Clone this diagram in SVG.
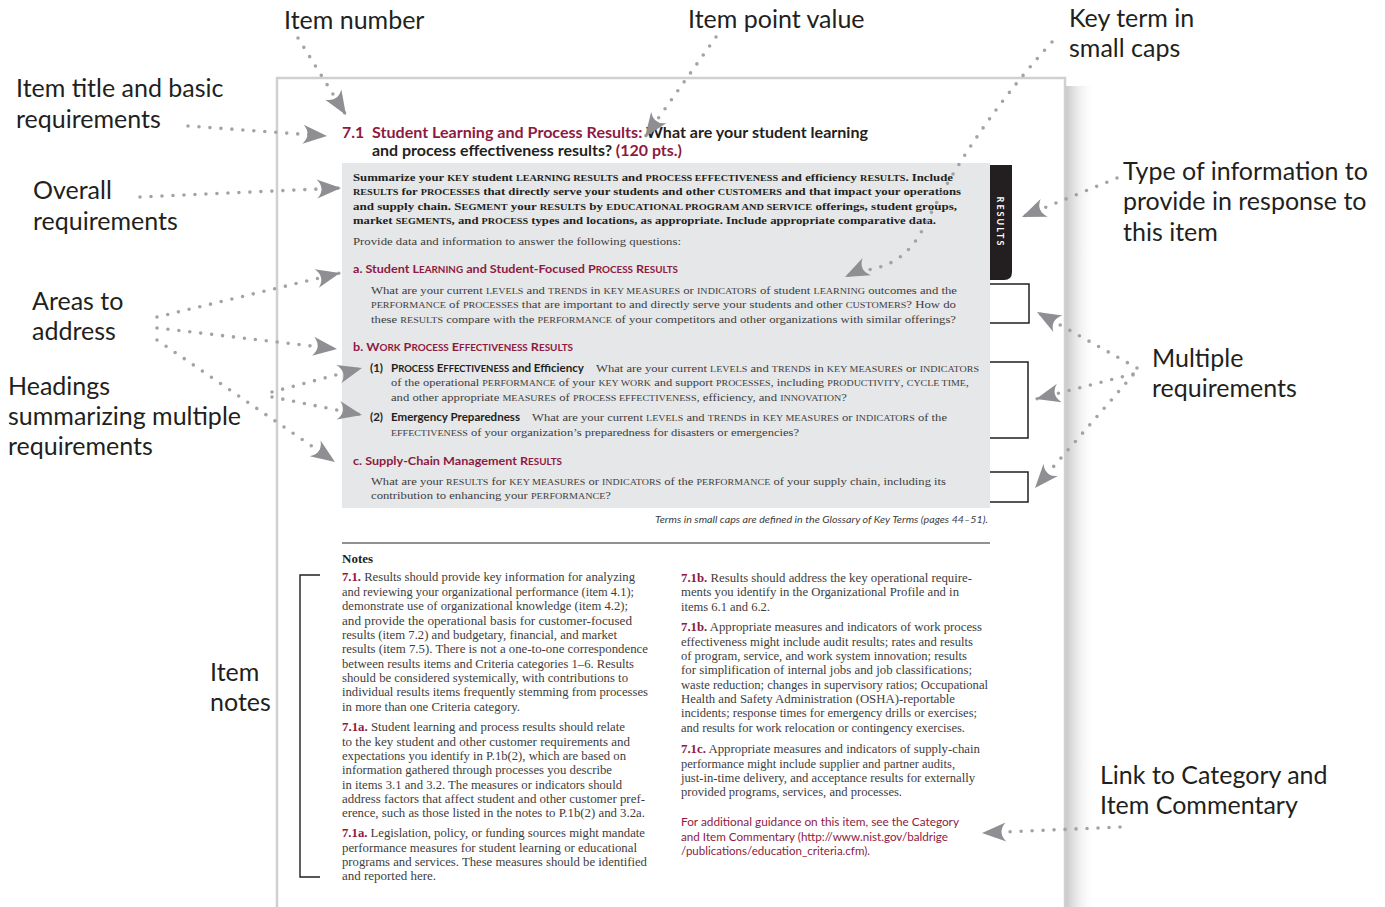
<svg xmlns="http://www.w3.org/2000/svg" width="1385" height="907" viewBox="0 0 1385 907">
<defs>
<style>
.lbl{font-family:Lato,"Open Sans","Liberation Sans",sans-serif;font-size:25px;fill:#231f20}
.s{font-family:"Liberation Serif","Times New Roman",serif;font-size:11.2px;fill:#3d3d3d}
.sb{font-family:"Liberation Serif","Times New Roman",serif;font-size:11.2px;font-weight:bold;fill:#231f20}
.n{font-family:"Liberation Serif","Times New Roman",serif;font-size:11.6px;fill:#3d3d3d}
.nb{font-weight:bold;fill:#8e1a42}
.sc{font-size:8.9px}
.h{font-family:Lato,"Liberation Sans",sans-serif;font-size:12px;font-weight:bold;fill:#8e1a42}
.hk{font-family:Lato,"Liberation Sans",sans-serif;font-size:11.5px;font-weight:bold;fill:#231f20}
.hs{font-size:9.4px}
.m{fill:#8e1a42}
.k{fill:#231f20}
.ttl{font-family:Lato,"Liberation Sans",sans-serif;font-size:15.8px;font-weight:bold;fill:#8e1a42}
.lnk{font-family:Lato,"Liberation Sans",sans-serif;font-size:11.5px;fill:#8e1a42}
.it{font-family:Lato,"Liberation Sans",sans-serif;font-size:10px;font-style:italic;fill:#3d3d3d}
.dot{fill:none;stroke:#a3a3a7;stroke-width:3.6;stroke-linecap:round;stroke-dasharray:0 11;marker-end:url(#ah)}
.box{fill:none;stroke:#231f20;stroke-width:1.5}
</style>
<marker id="ah" viewBox="-25 -11 27 22" refX="0" refY="0" markerWidth="27" markerHeight="22" markerUnits="userSpaceOnUse" orient="auto">
<path d="M0,0 L-24,-9.5 Q-15,0 -24,9.5 Z" fill="#8f8f93"/>
</marker>
<linearGradient id="sh" x1="0" y1="0" x2="1" y2="0">
<stop offset="0" stop-color="#c9c9c9"/>
<stop offset="1" stop-color="#ffffff" stop-opacity="0"/>
</linearGradient>
</defs>
<rect width="1385" height="907" fill="#ffffff"/>

<g id="page">
<rect x="1066" y="86" width="30" height="821" fill="url(#sh)"/>
<rect x="277" y="78" width="788" height="860" fill="#ffffff" stroke="#d0d0d0" stroke-width="2.5"/>
<path class="box" d="M980,284 H1029 V323 H980"/>
<path class="box" d="M980,362 H1028 V438 H980"/>
<path class="box" d="M980,472 H1028 V502 H980"/>
<rect x="342" y="163" width="648" height="345" fill="#e6e7e8"/>
<path d="M990,165 H1012 V272 Q1012,280 1004,280 H990 Z" fill="#231f20"/>
<text transform="translate(997,222) rotate(90)" text-anchor="middle" font-family="Lato,'Liberation Sans',sans-serif" font-size="9" font-weight="bold" letter-spacing="2" fill="#ffffff">RESULTS</text>
<line x1="342" y1="543" x2="990" y2="543" stroke="#6d6d6d" stroke-width="1.5"/>
<path d="M320,575 H300 V877 H320" fill="none" stroke="#231f20" stroke-width="1.4"/>
</g>

<g id="item-title">
<text class="ttl" x="342" y="138">7.1</text>
<text class="ttl" x="372" y="138" textLength="496" lengthAdjust="spacingAndGlyphs">Student Learning and Process Results: <tspan class="k">What are your student learning</tspan></text>
<text class="ttl" x="372" y="156" textLength="310" lengthAdjust="spacingAndGlyphs"><tspan class="k">and process effectiveness results?</tspan> (120 pts.)</text>
</g>

<g id="overall-requirements">
<text class="sb" x="353" y="181" textLength="600" lengthAdjust="spacingAndGlyphs">Summarize your <tspan class="sc">KEY</tspan> student <tspan class="sc">LEARNING RESULTS</tspan> and <tspan class="sc">PROCESS EFFECTIVENESS</tspan> and efficiency <tspan class="sc">RESULTS</tspan>. Include</text>
<text class="sb" x="353" y="195" textLength="608" lengthAdjust="spacingAndGlyphs"><tspan class="sc">RESULTS</tspan> for <tspan class="sc">PROCESSES</tspan> that directly serve your students and other <tspan class="sc">CUSTOMERS</tspan> and that impact your operations</text>
<text class="sb" x="353" y="210" textLength="604" lengthAdjust="spacingAndGlyphs">and supply chain. S<tspan class="sc">EGMENT</tspan> your <tspan class="sc">RESULTS</tspan> by <tspan class="sc">EDUCATIONAL PROGRAM AND SERVICE</tspan> offerings, student groups,</text>
<text class="sb" x="353" y="224" textLength="583" lengthAdjust="spacingAndGlyphs">market <tspan class="sc">SEGMENTS</tspan>, and <tspan class="sc">PROCESS</tspan> types and locations, as appropriate. Include appropriate comparative data.</text>
<text class="s" x="353" y="245" textLength="328" lengthAdjust="spacingAndGlyphs">Provide data and information to answer the following questions:</text>
</g>

<g id="area-a">
<text class="h" x="353" y="273" textLength="325" lengthAdjust="spacingAndGlyphs">a. Student L<tspan class="hs">EARNING</tspan> and Student-Focused P<tspan class="hs">ROCESS</tspan> R<tspan class="hs">ESULTS</tspan></text>
<text class="s" x="371" y="294" textLength="586" lengthAdjust="spacingAndGlyphs">What are your current <tspan class="sc">LEVELS</tspan> and <tspan class="sc">TRENDS</tspan> in <tspan class="sc">KEY MEASURES</tspan> or <tspan class="sc">INDICATORS</tspan> of student <tspan class="sc">LEARNING</tspan> outcomes and the</text>
<text class="s" x="371" y="308" textLength="585" lengthAdjust="spacingAndGlyphs"><tspan class="sc">PERFORMANCE</tspan> of <tspan class="sc">PROCESSES</tspan> that are important to and directly serve your students and other <tspan class="sc">CUSTOMERS</tspan>? How do</text>
<text class="s" x="371" y="323" textLength="585" lengthAdjust="spacingAndGlyphs">these <tspan class="sc">RESULTS</tspan> compare with the <tspan class="sc">PERFORMANCE</tspan> of your competitors and other organizations with similar offerings?</text>
</g>

<g id="area-b">
<text class="h" x="353" y="351" textLength="220" lengthAdjust="spacingAndGlyphs">b. W<tspan class="hs">ORK</tspan> P<tspan class="hs">ROCESS</tspan> E<tspan class="hs">FFECTIVENESS</tspan> R<tspan class="hs">ESULTS</tspan></text>
<text class="hk" x="370" y="372">(1)</text>
<text class="hk" x="391" y="372" textLength="193" lengthAdjust="spacingAndGlyphs">P<tspan class="hs">ROCESS</tspan> E<tspan class="hs">FFECTIVENESS</tspan> and Efficiency</text>
<text class="s" x="596" y="372" textLength="383" lengthAdjust="spacingAndGlyphs">What are your current <tspan class="sc">LEVELS</tspan> and <tspan class="sc">TRENDS</tspan> in <tspan class="sc">KEY MEASURES</tspan> or <tspan class="sc">INDICATORS</tspan></text>
<text class="s" x="391" y="386" textLength="578" lengthAdjust="spacingAndGlyphs">of the operational <tspan class="sc">PERFORMANCE</tspan> of your <tspan class="sc">KEY WORK</tspan> and support <tspan class="sc">PROCESSES</tspan>, including <tspan class="sc">PRODUCTIVITY</tspan>, <tspan class="sc">CYCLE TIME</tspan>,</text>
<text class="s" x="391" y="401" textLength="456" lengthAdjust="spacingAndGlyphs">and other appropriate <tspan class="sc">MEASURES</tspan> of <tspan class="sc">PROCESS EFFECTIVENESS</tspan>, efficiency, and <tspan class="sc">INNOVATION</tspan>?</text>
<text class="hk" x="370" y="421">(2)</text>
<text class="hk" x="391" y="421" textLength="129" lengthAdjust="spacingAndGlyphs">Emergency Preparedness</text>
<text class="s" x="532" y="421" textLength="415" lengthAdjust="spacingAndGlyphs">What are your current <tspan class="sc">LEVELS</tspan> and <tspan class="sc">TRENDS</tspan> in <tspan class="sc">KEY MEASURES</tspan> or <tspan class="sc">INDICATORS</tspan> of the</text>
<text class="s" x="391" y="436" textLength="408" lengthAdjust="spacingAndGlyphs"><tspan class="sc">EFFECTIVENESS</tspan> of your organization’s preparedness for disasters or emergencies?</text>
</g>

<g id="area-c">
<text class="h" x="353" y="465" textLength="209" lengthAdjust="spacingAndGlyphs">c. Supply-Chain Management R<tspan class="hs">ESULTS</tspan></text>
<text class="s" x="371" y="485" textLength="575" lengthAdjust="spacingAndGlyphs">What are your <tspan class="sc">RESULTS</tspan> for <tspan class="sc">KEY MEASURES</tspan> or <tspan class="sc">INDICATORS</tspan> of the <tspan class="sc">PERFORMANCE</tspan> of your supply chain, including its</text>
<text class="s" x="371" y="499" textLength="240" lengthAdjust="spacingAndGlyphs">contribution to enhancing your <tspan class="sc">PERFORMANCE</tspan>?</text>
<text class="it" x="655" y="523" textLength="333" lengthAdjust="spacingAndGlyphs">Terms in small caps are defined in the Glossary of Key Terms (pages 44–51).</text>
</g>

<g id="notes">
<text x="342" y="563" font-family="'Liberation Serif',serif" font-size="13" font-weight="bold" fill="#231f20">Notes</text>
<text class="n" x="342" y="581" textLength="293" lengthAdjust="spacingAndGlyphs"><tspan class="nb">7.1.</tspan> Results should provide key information for analyzing</text>
<text class="n" x="342" y="595.5" textLength="292" lengthAdjust="spacingAndGlyphs">and reviewing your organizational performance (item 4.1);</text>
<text class="n" x="342" y="610" textLength="286" lengthAdjust="spacingAndGlyphs">demonstrate use of organizational knowledge (item 4.2);</text>
<text class="n" x="342" y="624.5" textLength="290" lengthAdjust="spacingAndGlyphs">and provide the operational basis for customer-focused</text>
<text class="n" x="342" y="639" textLength="275" lengthAdjust="spacingAndGlyphs">results (item 7.2) and budgetary, financial, and market</text>
<text class="n" x="342" y="653" textLength="306" lengthAdjust="spacingAndGlyphs">results (item 7.5). There is not a one-to-one correspondence</text>
<text class="n" x="342" y="667.5" textLength="292" lengthAdjust="spacingAndGlyphs">between results items and Criteria categories 1–6. Results</text>
<text class="n" x="342" y="682" textLength="286" lengthAdjust="spacingAndGlyphs">should be considered systemically, with contributions to</text>
<text class="n" x="342" y="696" textLength="306" lengthAdjust="spacingAndGlyphs">individual results items frequently stemming from processes</text>
<text class="n" x="342" y="710.5" textLength="178" lengthAdjust="spacingAndGlyphs">in more than one Criteria category.</text>

<text class="n" x="342" y="731" textLength="283" lengthAdjust="spacingAndGlyphs"><tspan class="nb">7.1a.</tspan> Student learning and process results should relate</text>
<text class="n" x="342" y="745.5" textLength="288" lengthAdjust="spacingAndGlyphs">to the key student and other customer requirements and</text>
<text class="n" x="342" y="760" textLength="284" lengthAdjust="spacingAndGlyphs">expectations you identify in P.1b(2), which are based on</text>
<text class="n" x="342" y="774" textLength="270" lengthAdjust="spacingAndGlyphs">information gathered through processes you describe</text>
<text class="n" x="342" y="788.5" textLength="280" lengthAdjust="spacingAndGlyphs">in items 3.1 and 3.2. The measures or indicators should</text>
<text class="n" x="342" y="803" textLength="303" lengthAdjust="spacingAndGlyphs">address factors that affect student and other customer pref-</text>
<text class="n" x="342" y="817" textLength="303" lengthAdjust="spacingAndGlyphs">erence, such as those listed in the notes to P.1b(2) and 3.2a.</text>

<text class="n" x="342" y="837" textLength="303" lengthAdjust="spacingAndGlyphs"><tspan class="nb">7.1a.</tspan> Legislation, policy, or funding sources might mandate</text>
<text class="n" x="342" y="851.5" textLength="295" lengthAdjust="spacingAndGlyphs">performance measures for student learning or educational</text>
<text class="n" x="342" y="866" textLength="305" lengthAdjust="spacingAndGlyphs">programs and services. These measures should be identified</text>
<text class="n" x="342" y="880" textLength="94" lengthAdjust="spacingAndGlyphs">and reported here.</text>

<text class="n" x="681" y="582" textLength="291" lengthAdjust="spacingAndGlyphs"><tspan class="nb">7.1b.</tspan> Results should address the key operational require-</text>
<text class="n" x="681" y="596" textLength="278" lengthAdjust="spacingAndGlyphs">ments you identify in the Organizational Profile and in</text>
<text class="n" x="681" y="610.5" textLength="89" lengthAdjust="spacingAndGlyphs">items 6.1 and 6.2.</text>

<text class="n" x="681" y="631" textLength="301" lengthAdjust="spacingAndGlyphs"><tspan class="nb">7.1b.</tspan> Appropriate measures and indicators of work process</text>
<text class="n" x="681" y="645.5" textLength="292" lengthAdjust="spacingAndGlyphs">effectiveness might include audit results; rates and results</text>
<text class="n" x="681" y="660" textLength="286" lengthAdjust="spacingAndGlyphs">of program, service, and work system innovation; results</text>
<text class="n" x="681" y="674" textLength="291" lengthAdjust="spacingAndGlyphs">for simplification of internal jobs and job classifications;</text>
<text class="n" x="681" y="688.5" textLength="307" lengthAdjust="spacingAndGlyphs">waste reduction; changes in supervisory ratios; Occupational</text>
<text class="n" x="681" y="703" textLength="274" lengthAdjust="spacingAndGlyphs">Health and Safety Administration (OSHA)-reportable</text>
<text class="n" x="681" y="717" textLength="296" lengthAdjust="spacingAndGlyphs">incidents; response times for emergency drills or exercises;</text>
<text class="n" x="681" y="731.5" textLength="284" lengthAdjust="spacingAndGlyphs">and results for work relocation or contingency exercises.</text>

<text class="n" x="681" y="753" textLength="299" lengthAdjust="spacingAndGlyphs"><tspan class="nb">7.1c.</tspan> Appropriate measures and indicators of supply-chain</text>
<text class="n" x="681" y="767.5" textLength="274" lengthAdjust="spacingAndGlyphs">performance might include supplier and partner audits,</text>
<text class="n" x="681" y="782" textLength="294" lengthAdjust="spacingAndGlyphs">just-in-time delivery, and acceptance results for externally</text>
<text class="n" x="681" y="796" textLength="221" lengthAdjust="spacingAndGlyphs">provided programs, services, and processes.</text>

<text class="lnk" x="681" y="826" textLength="278" lengthAdjust="spacingAndGlyphs">For additional guidance on this item, see the Category</text>
<text class="lnk" x="681" y="840.5" textLength="267" lengthAdjust="spacingAndGlyphs">and Item Commentary (http://www.nist.gov/baldrige</text>
<text class="lnk" x="681" y="855" textLength="189" lengthAdjust="spacingAndGlyphs">/publications/education_criteria.cfm).</text>
</g>

<g id="label-item-number"><text class="lbl" x="284" y="29">Item number</text></g>
<g id="label-item-point-value"><text class="lbl" x="688" y="28">Item point value</text></g>
<g id="label-key-term"><text class="lbl" x="1069" y="27">Key term in</text><text class="lbl" x="1069" y="57">small caps</text></g>
<g id="label-item-title"><text class="lbl" x="16" y="97">Item title and basic</text><text class="lbl" x="16" y="128">requirements</text></g>
<g id="label-overall"><text class="lbl" x="33" y="199">Overall</text><text class="lbl" x="33" y="230">requirements</text></g>
<g id="label-areas"><text class="lbl" x="32" y="310">Areas to</text><text class="lbl" x="32" y="340">address</text></g>
<g id="label-headings"><text class="lbl" x="8" y="395">Headings</text><text class="lbl" x="8" y="425">summarizing multiple</text><text class="lbl" x="8" y="455">requirements</text></g>
<g id="label-type-info"><text class="lbl" x="1123" y="180">Type of information to</text><text class="lbl" x="1123" y="210">provide in response to</text><text class="lbl" x="1123" y="241">this item</text></g>
<g id="label-multiple"><text class="lbl" x="1152" y="367">Multiple</text><text class="lbl" x="1152" y="397">requirements</text></g>
<g id="label-item-notes"><text class="lbl" x="210" y="681">Item</text><text class="lbl" x="210" y="711">notes</text></g>
<g id="label-link"><text class="lbl" x="1100" y="784">Link to Category and</text><text class="lbl" x="1100" y="814">Item Commentary</text></g>

<g id="connectors">
<path class="dot" d="M298,38 L346,115"/>
<path class="dot" d="M716,37 L645,137"/>
<path class="dot" d="M1052,42 C990,110 950,175 925,225 S870,265 845,277"/>
<path class="dot" d="M188,126 L327,136"/>
<path class="dot" d="M140,197 L341,188"/>
<path class="dot" d="M157,317 L340,273"/>
<path class="dot" d="M157,328 L337,349"/>
<path class="dot" d="M157,340 L335,462"/>
<path class="dot" d="M272,392 L362,368"/>
<path class="dot" d="M272,397 L362,415"/>
<path class="dot" d="M1117,178 L1022,217"/>
<path class="dot" d="M1137,368 L1037,312"/>
<path class="dot" d="M1133,374 L1036,399"/>
<path class="dot" d="M1133,375 L1035,488"/>
<path class="dot" d="M1120,827 L982,833"/>
</g>
</svg>
